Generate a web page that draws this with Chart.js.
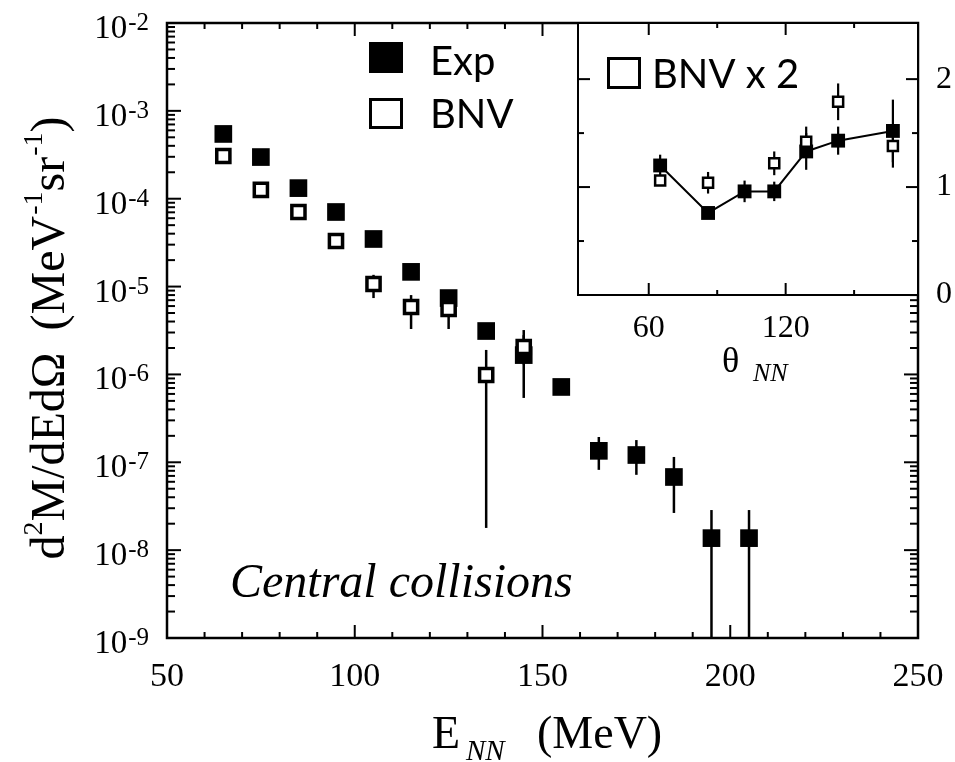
<!DOCTYPE html>
<html>
<head>
<meta charset="utf-8">
<script src="https://cdn.jsdelivr.net/npm/chart.js@4.4.1/dist/chart.umd.min.js"></script>
<style>
  html, body { margin: 0; padding: 0; background: #fff; }
  #wrap { position: relative; width: 955px; height: 762px; }
  #wrap canvas { position: absolute; left: 0; top: 0; }
</style>
</head>
<body>
<div id="wrap">
  <canvas id="mainChart" width="955" height="762"></canvas>
  <canvas id="insetChart" width="955" height="762"></canvas>
</div>
<script>
const SERIF = "'Liberation Serif', 'Times New Roman', serif";
const SANS = "Lato, 'Open Sans', sans-serif";

// main panel: d2M/dEdΩ vs E_NN
const energyExp = [65, 75, 85, 95, 105, 115, 125, 135, 145, 155, 165, 175, 185, 195, 205];
const yieldExp = [5.46e-4, 2.98e-4, 1.32e-4, 7.06e-5, 3.48e-5, 1.47e-5, 7.4e-6, 3.12e-6,
  1.66e-6, 7.2e-7, 1.35e-7, 1.21e-7, 6.8e-8, 1.37e-8, 1.37e-8];
const yieldExpHi = [null, null, null, null, null, null, null, null,
  2.8e-6, null, 1.94e-7, 1.79e-7, 1.15e-7, 2.86e-8, 2.86e-8];
const yieldExpLo = [null, null, null, null, null, null, null, null,
  5.4e-7, null, 8.2e-8, 7.2e-8, 2.65e-8, 1e-10, 1e-10];

const energyBnv = [65, 75, 85, 95, 105, 115, 125, 135, 145];
const yieldBnv = [3.06e-4, 1.26e-4, 7.06e-5, 3.3e-5, 1.07e-5, 5.86e-6, 5.56e-6, 9.86e-7, 2.05e-6];
const yieldBnvHi = [null, null, null, null, 1.36e-5, 8.0e-6, 7.5e-6, 1.9e-6, 3.2e-6];
const yieldBnvLo = [null, null, null, null, 7.4e-6, 3.29e-6, 3.29e-6, 1.79e-8, 1.3e-6];

const xTickLabels = [50, 100, 150, 200, 250];
const yDecades = [-9, -8, -7, -6, -5, -4, -3, -2];

// inset: ratio vs θ_NN
const thetaExp = [65, 86, 102, 115, 129, 143, 167];
const ratioExp = [1.20, 0.76, 0.96, 0.96, 1.33, 1.43, 1.52];
const ratioExpErr = [0.10, 0.03, 0.10, 0.09, 0.17, 0.13, 0.29];
const thetaBnv = [65, 86, 115, 129, 143, 167];
const ratioBnv = [1.06, 1.04, 1.22, 1.42, 1.79, 1.38];
const ratioBnvErr = [0.05, 0.10, 0.11, 0.14, 0.17, 0.20];

const insetXLabels = [60, 120];
const insetYLabels = [0, 1, 2];

function drawRichText(ctx, parts, x, y, align) {
  let total = 0;
  parts.forEach((p) => {
    ctx.font = p.font;
    total += ctx.measureText(p.text).width + (p.gap || 0);
  });
  let cx = x;
  if (align === "right") cx = x - total;
  if (align === "center") cx = x - total / 2;
  ctx.textAlign = "left";
  ctx.textBaseline = "alphabetic";
  parts.forEach((p) => {
    ctx.font = p.font;
    cx += p.gap || 0;
    ctx.fillText(p.text, cx, y - (p.rise || 0));
    cx += ctx.measureText(p.text).width;
  });
}

function tick(ctx, x1, y1, x2, y2) {
  ctx.beginPath();
  ctx.moveTo(x1, y1);
  ctx.lineTo(x2, y2);
  ctx.stroke();
}

// no extra room for the first/last tick label, the frame is fixed
function fixBox(size, key) {
  return (s) => {
    s[key] = size;
    s.paddingLeft = 0;
    s.paddingRight = 0;
    s.paddingTop = 0;
    s.paddingBottom = 0;
  };
}

const errorBarPlugin = {
  id: "errorBars",
  beforeDatasetsDraw(chart) {
    const { ctx, chartArea, scales } = chart;
    ctx.save();
    ctx.beginPath();
    ctx.rect(chartArea.left, chartArea.top, chartArea.width, chartArea.height);
    ctx.clip();
    ctx.strokeStyle = "#000";
    chart.data.datasets.forEach((ds) => {
      if (!ds.errHi) return;
      ctx.lineWidth = ds.errWidth;
      ds.data.forEach((pt, i) => {
        if (ds.errHi[i] == null) return;
        const x = scales.x.getPixelForValue(pt.x);
        const yHi = scales.y.getPixelForValue(ds.errHi[i]);
        const yLo = Math.min(scales.y.getPixelForValue(ds.errLo[i]), chartArea.bottom + 5);
        tick(ctx, x, yHi, x, yLo);
      });
    });
    ctx.restore();
  }
};

const mainDecorPlugin = {
  id: "mainDecor",
  afterDraw(chart) {
    const { ctx, chartArea: a, scales } = chart;
    const xs = scales.x;
    const ys = scales.y;
    ctx.save();
    ctx.strokeStyle = "#000";
    ctx.fillStyle = "#000";

    // log ticks, left and right, pointing inwards
    ctx.lineWidth = 2;
    yDecades.forEach((e) => {
      const p = ys.getPixelForValue(Math.pow(10, e));
      tick(ctx, a.left, p, a.left + 14, p);
      tick(ctx, a.right, p, a.right - 14, p);
      if (e === -2) return;
      for (let m = 2; m <= 9; m++) {
        const q = ys.getPixelForValue(m * Math.pow(10, e));
        tick(ctx, a.left, q, a.left + 8, q);
        tick(ctx, a.right, q, a.right - 8, q);
      }
    });

    // linear ticks, bottom and top
    for (let v = 50; v <= 250; v += 10) {
      const p = xs.getPixelForValue(v);
      const len = v % 50 === 0 ? 13 : 6;
      tick(ctx, p, a.bottom, p, a.bottom - len);
      tick(ctx, p, a.top, p, a.top + len);
    }

    ctx.lineWidth = 2.5;
    ctx.strokeRect(a.left, a.top, a.width, a.height);

    // y tick labels 10^n
    yDecades.forEach((e) => {
      const p = ys.getPixelForValue(Math.pow(10, e));
      drawRichText(ctx, [
        { text: "10", font: "33px " + SERIF },
        { text: "-" + Math.abs(e), font: "25px " + SERIF, rise: 8, gap: 1 }
      ], 149, p + 15, "right");
    });

    // y title
    ctx.save();
    ctx.translate(64, 338);
    ctx.rotate(-Math.PI / 2);
    const big = "48px " + SERIF;
    const sup = "28px " + SERIF;
    drawRichText(ctx, [
      { text: "d", font: big },
      { text: "2", font: sup, rise: 22 },
      { text: "M/dEdΩ", font: big },
      { text: "(MeV", font: big, gap: 22 },
      { text: "-1", font: sup, rise: 22, gap: 1 },
      { text: "sr", font: big },
      { text: "-1", font: sup, rise: 22, gap: 1 },
      { text: ")", font: big }
    ], 0, 0, "center");
    ctx.restore();

    // x title
    ctx.textAlign = "left";
    ctx.font = "46px " + SERIF;
    ctx.fillText("E", 432, 748);
    ctx.font = "italic 29px " + SERIF;
    ctx.fillText("NN", 466, 760);
    ctx.font = "46px " + SERIF;
    ctx.fillText("(MeV)", 537, 748);

    // annotation
    ctx.font = "italic 48px " + SERIF;
    ctx.fillText("Central collisions", 230, 597);

    // legend
    const exp = chart.data.datasets[0];
    const bnv = chart.data.datasets[1];
    ctx.fillStyle = exp.pointBackgroundColor;
    ctx.fillRect(369, 42, 34, 31);
    ctx.fillStyle = bnv.pointBackgroundColor;
    ctx.fillRect(370, 99, 32, 29);
    ctx.strokeStyle = bnv.pointBorderColor;
    ctx.lineWidth = 3;
    ctx.strokeRect(370.5, 99.5, 31, 28);
    ctx.fillStyle = "#000";
    ctx.font = "40px " + SANS;
    ctx.fillText(exp.label, 430, 75);
    ctx.fillText(bnv.label, 430, 128);
    ctx.restore();
  }
};

const insetPaperPlugin = {
  id: "insetPaper",
  beforeDraw(chart) {
    const { ctx, chartArea: a } = chart;
    ctx.save();
    ctx.fillStyle = "#fff";
    ctx.fillRect(a.left, a.top, a.width, a.height);
    ctx.restore();
  }
};

const insetDecorPlugin = {
  id: "insetDecor",
  afterDraw(chart) {
    const { ctx, chartArea: a, scales } = chart;
    ctx.save();
    ctx.strokeStyle = "#000";
    ctx.fillStyle = "#000";
    ctx.lineWidth = 2;
    for (let v = 0.5; v <= 2; v += 0.5) {
      const p = scales.y.getPixelForValue(v);
      const len = Number.isInteger(v) ? 12 : 6;
      tick(ctx, a.left, p, a.left + len, p);
      tick(ctx, a.right, p, a.right - len, p);
    }
    for (let v = 60; v <= 150; v += 30) {
      const p = scales.x.getPixelForValue(v);
      const len = v % 60 === 0 ? 12 : 5;
      tick(ctx, p, a.bottom, p, a.bottom - len);
      tick(ctx, p, a.top, p, a.top + len);
    }
    ctx.lineWidth = 2;
    ctx.strokeRect(a.left, a.top, a.width, a.height);

    // legend
    const bnv = chart.data.datasets[1];
    ctx.strokeStyle = bnv.pointBorderColor;
    ctx.lineWidth = 3;
    ctx.strokeRect(608.5, 58.5, 31, 29);
    ctx.font = "40px " + SANS;
    ctx.textAlign = "left";
    ctx.fillText(bnv.label, 652, 88);

    // x title
    ctx.font = "36px " + SERIF;
    ctx.fillText("θ", 722, 372);
    ctx.font = "italic 26px " + SERIF;
    ctx.fillText("NN", 753, 381);
    ctx.restore();
  }
};

function renderMain() {
  const canvas = document.getElementById("mainChart");
  new Chart(canvas, {
    type: "scatter",
    data: {
      datasets: [
        {
          label: "Exp",
          data: energyExp.map((x, i) => ({ x, y: yieldExp[i] })),
          errHi: yieldExpHi,
          errLo: yieldExpLo,
          errWidth: 2.5,
          pointStyle: "rect",
          pointRadius: 12.5,
          pointBackgroundColor: "#000",
          pointBorderColor: "#000",
          pointBorderWidth: 0,
          order: 1
        },
        {
          label: "BNV",
          data: energyBnv.map((x, i) => ({ x, y: yieldBnv[i] })),
          errHi: yieldBnvHi,
          errLo: yieldBnvLo,
          errWidth: 2.5,
          pointStyle: "rect",
          pointRadius: 9.3,
          pointBackgroundColor: "#fff",
          pointBorderColor: "#000",
          pointBorderWidth: 3.5,
          order: 0
        }
      ]
    },
    options: {
      responsive: false,
      animation: false,
      layout: { padding: { top: 23, right: 37, left: 0, bottom: 0 } },
      plugins: { legend: { display: false }, tooltip: { enabled: false } },
      scales: {
        x: {
          type: "linear",
          min: 50,
          max: 250,
          afterBuildTicks: (s) => { s.ticks = xTickLabels.map((v) => ({ value: v })); },
          afterFit: fixBox(124, "height"),
          grid: { display: false, drawTicks: false, tickLength: 0 },
          border: { display: false },
          ticks: { color: "#000", padding: 19, maxRotation: 0, font: { family: SERIF, size: 34 } }
        },
        y: {
          type: "logarithmic",
          min: 1e-9,
          max: 1e-2,
          afterFit: fixBox(167, "width"),
          grid: { display: false, drawTicks: false },
          border: { display: false },
          ticks: { display: false }
        }
      }
    },
    plugins: [errorBarPlugin, mainDecorPlugin]
  });
}

function renderInset() {
  const canvas = document.getElementById("insetChart");
  new Chart(canvas, {
    type: "scatter",
    data: {
      datasets: [
        {
          label: "Exp",
          data: thetaExp.map((x, i) => ({ x, y: ratioExp[i] })),
          errHi: ratioExp.map((v, i) => v + ratioExpErr[i]),
          errLo: ratioExp.map((v, i) => v - ratioExpErr[i]),
          errWidth: 2.2,
          showLine: true,
          borderColor: "#000",
          borderWidth: 2,
          pointStyle: "rect",
          pointRadius: 9.8,
          pointBackgroundColor: "#000",
          pointBorderColor: "#000",
          pointBorderWidth: 0,
          order: 1
        },
        {
          label: "BNV x 2",
          data: thetaBnv.map((x, i) => ({ x, y: ratioBnv[i] })),
          errHi: ratioBnv.map((v, i) => v + ratioBnvErr[i]),
          errLo: ratioBnv.map((v, i) => v - ratioBnvErr[i]),
          errWidth: 2.2,
          pointStyle: "rect",
          pointRadius: 7.1,
          pointBackgroundColor: "#fff",
          pointBorderColor: "#000",
          pointBorderWidth: 2.5,
          order: 0
        }
      ]
    },
    options: {
      responsive: false,
      animation: false,
      layout: { padding: { top: 23, right: 0, left: 578, bottom: 407 } },
      plugins: { legend: { display: false }, tooltip: { enabled: false } },
      scales: {
        x: {
          type: "linear",
          min: 29,
          max: 178,
          afterBuildTicks: (s) => { s.ticks = insetXLabels.map((v) => ({ value: v })); },
          afterFit: fixBox(60, "height"),
          grid: { display: false, drawTicks: false, tickLength: 0 },
          border: { display: false },
          ticks: { color: "#000", padding: 14, maxRotation: 0, font: { family: SERIF, size: 32 } }
        },
        y: {
          type: "linear",
          position: "right",
          min: 0,
          max: 2.52,
          afterBuildTicks: (s) => { s.ticks = insetYLabels.map((v) => ({ value: v })); },
          afterFit: fixBox(37, "width"),
          grid: { display: false, drawTicks: false, tickLength: 0 },
          border: { display: false },
          ticks: { color: "#000", padding: 18, font: { family: SERIF, size: 32 } }
        }
      }
    },
    plugins: [insetPaperPlugin, errorBarPlugin, insetDecorPlugin]
  });
}

renderMain();
renderInset();
</script>
</body>
</html>
